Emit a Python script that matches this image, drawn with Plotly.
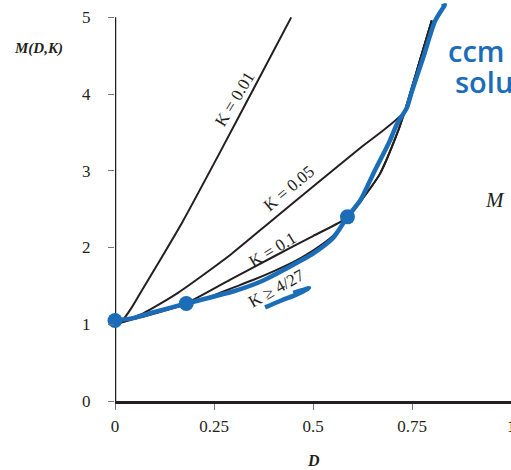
import plotly.graph_objects as go

# ---- data ----
k001_x = [0, 0.02, 0.04, 0.07, 0.12, 0.17, 0.265, 0.35, 0.445]
k001_y = [1, 1.06, 1.20, 1.46, 1.89, 2.33, 3.24, 4.07, 5.0]

k005_x = [0, 0.03, 0.07, 0.156, 0.29, 0.40, 0.518, 0.62, 0.732, 0.766, 0.80]
k005_y = [1, 1.06, 1.14, 1.40, 1.90, 2.37, 2.87, 3.30, 3.78, 4.37, 4.96]

k01_x = [0, 0.05, 0.10, 0.177, 0.29, 0.40, 0.50, 0.587, 0.62, 0.669, 0.712, 0.732, 0.766, 0.80]
k01_y = [1, 1.08, 1.16, 1.27, 1.58, 1.88, 2.15, 2.39, 2.60, 2.96, 3.48, 3.78, 4.37, 4.96]

kenv_x = [0, 0.05, 0.10, 0.18, 0.25, 0.30, 0.35, 0.40, 0.45, 0.50, 0.55, 0.587, 0.62, 0.669, 0.712, 0.732, 0.766, 0.80]
kenv_y = [1, 1.07, 1.14, 1.26, 1.38, 1.48, 1.58, 1.69, 1.81, 1.96, 2.15, 2.38, 2.60, 2.96, 3.48, 3.78, 4.37, 4.96]

blue_x = [0, 0.045, 0.10, 0.18, 0.30, 0.37, 0.434, 0.50, 0.55, 0.587, 0.62, 0.652, 0.694, 0.712, 0.737, 0.75, 0.778, 0.808, 0.828, 0.833, 0.826]
blue_y = [1.05, 1.08, 1.16, 1.27, 1.43, 1.56, 1.73, 1.92, 2.12, 2.40, 2.62, 2.96, 3.39, 3.61, 3.82, 4.04, 4.47, 4.95, 5.12, 5.16, 5.14]

dot_x = [0, 0.18, 0.587]
dot_y = [1.05, 1.27, 2.40]

stroke_x = [0.379, 0.42, 0.455, 0.49, 0.47, 0.45]
stroke_y = [1.22, 1.31, 1.38, 1.47, 1.44, 1.41]

x_ticks = [0, 0.25, 0.5, 0.75]
x_ticktext = ["0", "0.25", "0.5", "0.75"]
x_last_tick = "1"
y_ticks = [0, 1, 2, 3, 4, 5]

BLACK = "#231f20"
BLUE = "#1b6db7"
SERIF = "Liberation Serif, Times New Roman, serif"
Y_MAX = 5.2

fig = go.Figure()
for xs, ys in [(k001_x, k001_y), (k005_x, k005_y), (k01_x, k01_y), (kenv_x, kenv_y)]:
    fig.add_trace(go.Scatter(x=xs, y=ys, mode="lines", line=dict(color=BLACK, width=2, shape="spline", smoothing=0.6),
                             showlegend=False, hoverinfo="skip"))

fig.add_trace(go.Scatter(x=blue_x, y=blue_y, mode="lines", line=dict(color=BLUE, width=4.5, shape="spline", smoothing=0.6),
                         showlegend=False, hoverinfo="skip"))
fig.add_trace(go.Scatter(x=stroke_x, y=stroke_y, mode="lines", line=dict(color=BLUE, width=4.5, shape="spline"),
                         showlegend=False, hoverinfo="skip"))
fig.add_trace(go.Scatter(x=dot_x, y=dot_y, mode="markers", marker=dict(color=BLUE, size=15),
                         cliponaxis=False, showlegend=False, hoverinfo="skip"))

# y axis line (ends at 5)
fig.add_shape(type="line", x0=0, x1=0, y0=0, y1=5, xref="x", yref="y",
              line=dict(color=BLACK, width=2.5), layer="below")

lab = dict(family=SERIF, size=17, color=BLACK)
fig.add_annotation(x=0.302, y=3.93, text="K = 0.01", textangle=-59, showarrow=False, font=lab)
fig.add_annotation(x=0.439, y=2.77, text="K = 0.05", textangle=-40, showarrow=False, font=lab)
fig.add_annotation(x=0.399, y=1.97, text="K = 0.1", textangle=-31, showarrow=False, font=lab)
fig.add_annotation(x=0.407, y=1.47, text="K ≥ 4/27", textangle=-29, showarrow=False, font=lab)

fig.add_annotation(x=-0.194, y=4.6 / Y_MAX, xref="paper", yref="paper", xanchor="center", yanchor="middle",
                   text="<b><i>M(D,K)</i></b>", showarrow=False, font=dict(family=SERIF, size=15, color=BLACK))
fig.add_annotation(x=0.5, y=-0.77 / Y_MAX, xref="paper", yref="paper", xanchor="center", yanchor="middle",
                   text="<b><i>D</i></b>", showarrow=False, font=dict(family=SERIF, size=16, color=BLACK))
fig.add_annotation(x=1, y=0, xref="paper", yref="paper", xanchor="center", yanchor="top", yshift=-14,
                   text=x_last_tick, showarrow=False, font=dict(family=SERIF, size=17, color=BLACK))
fig.add_annotation(x=0.93, y=2.62, text="<i>M</i>", showarrow=False, xanchor="left", yanchor="middle",
                   font=dict(family=SERIF, size=21, color=BLACK))
fig.add_annotation(x=0.835, y=4.57, text="ccm", showarrow=False, xanchor="left", yanchor="middle",
                   font=dict(family="Open Sans", size=29, color=BLUE, weight=600))
fig.add_annotation(x=0.853, y=4.16, text="solution", showarrow=False, xanchor="left", yanchor="middle",
                   font=dict(family="Open Sans", size=29, color=BLUE, weight=600))

tickfont = dict(family=SERIF, size=17, color=BLACK)
fig.update_layout(
    width=511, height=470,
    margin=dict(l=115, r=0, t=2, b=69),
    paper_bgcolor="white", plot_bgcolor="white",
    xaxis=dict(range=[0, 1], tickvals=x_ticks, ticktext=x_ticktext, showgrid=False, zeroline=False,
               showline=True, linecolor=BLACK, linewidth=2.5, ticks="outside", ticklen=6,
               tickcolor="#777", tickwidth=1, tickfont=tickfont, ticklabelstandoff=2),
    yaxis=dict(range=[0, Y_MAX], tickvals=y_ticks, showgrid=False, zeroline=False, showline=False,
               ticks="outside", ticklen=6, tickcolor="#777", tickwidth=1, tickfont=tickfont,
               ticklabelstandoff=14),
)

fig.write_html("out.html")
